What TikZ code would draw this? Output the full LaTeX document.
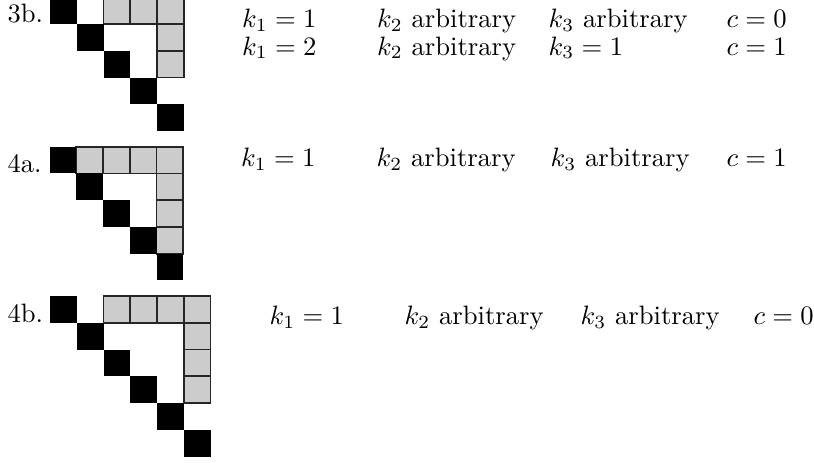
\documentclass[tikz,border=0pt]{standalone}
\begin{document}
\begin{tikzpicture}[x=0.3759pt,y={(0,-0.3759pt)},
  blk/.style={fill=black,draw=none},
  gcell/.style={fill=black!20,draw=black!85,line width=0.6pt},
  lbl/.style={anchor=base west,inner sep=0pt,font=\normalsize},
  txt/.style={anchor=base west,inner sep=0pt}]
\useasboundingbox (0,0) rectangle (814,462);
\clip (0,0) rectangle (814,462);
% ---------- 3b ----------
\node[lbl] (l3b) at (7,22.8) {3b.};
\begin{scope}[shift={(50,-2.7)},scale=26.75]
  \foreach \c/\r in {2/0,3/0,4/0,4/1,4/2}
    \draw[gcell] (\c,\r) rectangle ++(1,1);
  \foreach \i in {0,...,4}
    \fill[blk] (\i,\i) rectangle ++(1,1);
\end{scope}
\node[txt] (a1) at (241.5,27.5) {$k_1=1$};
\node[txt] (a2) at (376.5,27.5) {$k_2$ arbitrary};
\node[txt] (a3) at (548,27.5) {$k_3$ arbitrary};
\node[txt] (a4) at (726,27.5) {$c=0$};
\node[txt] (b1) at (241.5,55) {$k_1=2$};
\node[txt] (b2) at (376.5,55) {$k_2$ arbitrary};
\node[txt] (b3) at (548,55) {$k_3=1$};
\node[txt] (b4) at (726,55) {$c=1$};
% ---------- 4a ----------
\node[lbl] (l4a) at (7,172.3) {4a.};
\begin{scope}[shift={(49.5,146.7)},scale=26.75]
  \foreach \c/\r in {1/0,2/0,3/0,4/0,4/1,4/2,4/3}
    \draw[gcell] (\c,\r) rectangle ++(1,1);
  \foreach \i in {0,...,4}
    \fill[blk] (\i,\i) rectangle ++(1,1);
\end{scope}
\node[txt] (c1) at (240.5,166.8) {$k_1=1$};
\node[txt] (c2) at (376,166.8) {$k_2$ arbitrary};
\node[txt] (c3) at (550,166.8) {$k_3$ arbitrary};
\node[txt] (c4) at (726,166.8) {$c=1$};
% ---------- 4b ----------
\node[lbl] (l4b) at (7,322.5) {4b.};
\begin{scope}[shift={(50,296)},scale=26.75]
  \foreach \c/\r in {2/0,3/0,4/0,5/0,5/1,5/2,5/3}
    \draw[gcell] (\c,\r) rectangle ++(1,1);
  \foreach \i in {0,...,5}
    \fill[blk] (\i,\i) rectangle ++(1,1);
\end{scope}
\node[txt] (d1) at (269,324) {$k_1=1$};
\node[txt] (d2) at (404,324) {$k_2$ arbitrary};
\node[txt] (d3) at (580,324) {$k_3$ arbitrary};
\node[txt] (d4) at (753,324) {$c=0$};
\end{tikzpicture}
\end{document}
